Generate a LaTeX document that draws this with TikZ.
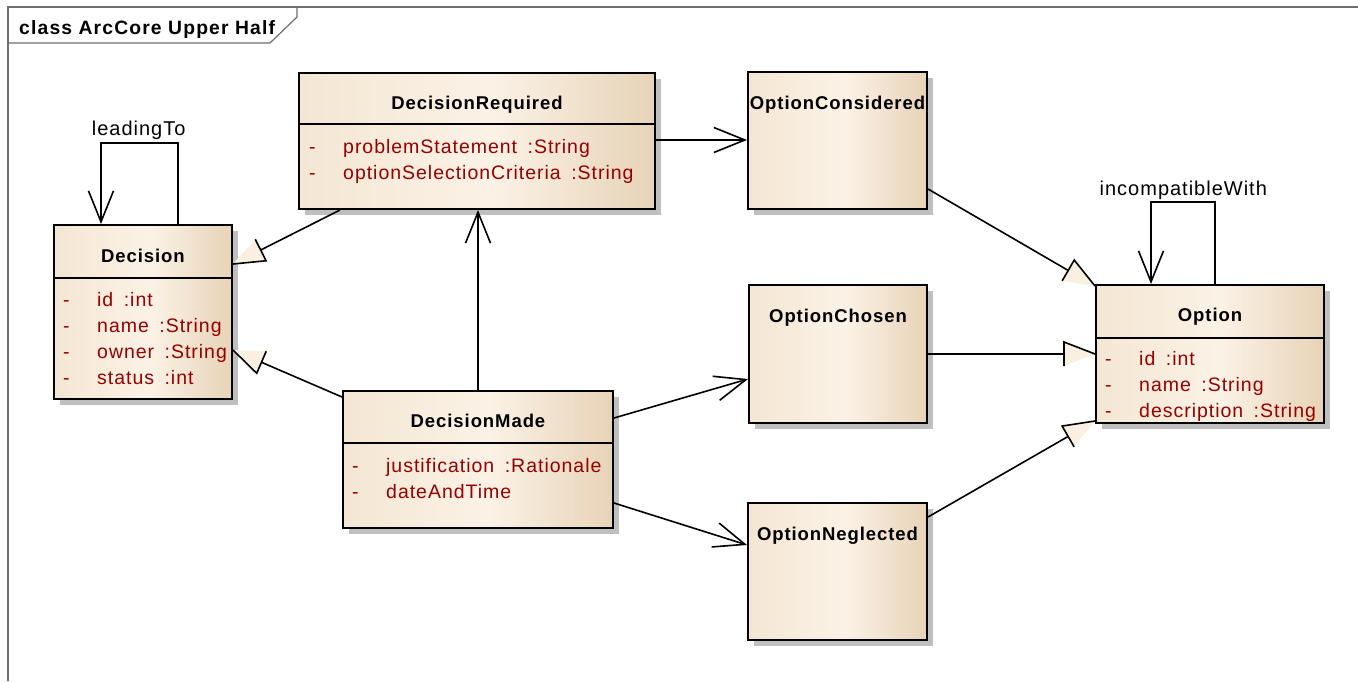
\documentclass[tikz,border=0pt]{standalone}
\usepackage{fontspec}
\setmainfont{Liberation Sans}
\newfontfamily\umlfont[LetterSpace=5]{Liberation Sans}
\newfontfamily\umltitlefont[LetterSpace=6]{Liberation Sans}
\usetikzlibrary{arrows.meta,calc,shadows}

\definecolor{attrred}{RGB}{150,0,0}
\definecolor{fillA}{HTML}{F4E6D3}
\definecolor{fillB}{HTML}{FBF2E6}
\definecolor{fillC}{HTML}{E7D3B7}
\definecolor{genfill}{HTML}{FAF0E2}
\definecolor{framegray}{RGB}{110,110,110}

% horizontal gradient of the class boxes (path box maps to 25bp..75bp)
\pgfdeclarehorizontalshading{umlfill}{100bp}{color(0bp)=(fillA); color(25bp)=(fillA);
  color(52bp)=(fillB); color(75bp)=(fillC); color(100bp)=(fillC)}

\tikzset{
  classbox/.style={rectangle, draw=black, line width=2pt, shade, shading=umlfill,
    inner sep=0pt, anchor=north west,
    drop shadow={shadow xshift=6pt, shadow yshift=-6pt, fill=black!25, opacity=1}},
  classname/.style={anchor=base, inner sep=0pt,
    font=\umlfont\fontsize{18.5}{22}\selectfont\bfseries},
  attrs/.style={anchor=base west, inner sep=0pt, align=left, text=attrred,
    font=\umlfont\fontsize{19.5}{26}\selectfont},
  rolelabel/.style={anchor=base, inner sep=0pt,
    font=\umlfont\fontsize{20}{24}\selectfont},
  divider/.style={line width=2pt},
  conn/.style={line width=1.6pt, line join=miter},
  assoc/.style={conn, -{Straight Barb[length=31pt, width=25pt, line width=1.6pt]}},
  genhead/.style={fill=genfill, draw=none},
  frame/.style={draw=framegray, line width=1.8pt},
}

% generalization: line from #1 to an unfilled-edge triangle whose apex is #2
\newcommand{\genrel}[2]{%
  \coordinate (gm) at ($(#2)!31pt!(#1)$);
  \coordinate (ga) at ($(gm)!12pt!90:(#2)$);
  \coordinate (gb) at ($(gm)!12pt!-90:(#2)$);
  \draw[conn] (#1) -- (gm);
  \path[genhead] (#2) -- (ga) -- (gb) -- cycle;
  \draw[conn] (gb) -- (ga) -- (#2);
}
\newcommand{\attrgap}{\hspace{10.5pt}}
\newcommand{\attr}[1]{\makebox[34pt][l]{-}#1}

\begin{document}
\begin{tikzpicture}[x=1pt, y=-1pt]
\useasboundingbox (0,0) rectangle (1358,681);
\fill[white] (0,0) rectangle (1358,681);

% diagram frame and its name tab
\draw[frame] (8,681) -- (8,7) -- (1358,7);
\draw[frame, line width=1.2pt] (8,43) -- (270,43) -- (297,17) -- (297,7);
\node[anchor=base west, inner sep=0pt,
  font=\umltitlefont\fontsize{19.3}{22}\selectfont\bfseries] (title) at (19,34.3)
  {class ArcCore Upper Half};

% classes
\node[classbox, minimum width=178pt, minimum height=174pt] (dec) at (53,224) {};
\node[classbox, minimum width=356pt, minimum height=136pt] (dr)  at (298,72) {};
\node[classbox, minimum width=179pt, minimum height=137pt] (oc)  at (747,71) {};
\node[classbox, minimum width=228pt, minimum height=138pt] (opt) at (1095,284) {};
\node[classbox, minimum width=270pt, minimum height=137pt] (dm)  at (342,390) {};
\node[classbox, minimum width=178pt, minimum height=138pt] (och) at (748,284) {};
\node[classbox, minimum width=179pt, minimum height=137pt] (on)  at (747,502) {};

% compartments
\draw[divider] (dec.west |- 0,278) -- (dec.east |- 0,278);
\draw[divider] (dr.west |- 0,124) -- (dr.east |- 0,124);
\draw[divider] (opt.west |- 0,338) -- (opt.east |- 0,338);
\draw[divider] (dm.west |- 0,443) -- (dm.east |- 0,443);

% class names
\node[classname] (decname) at (dec.north |- 0,262) {Decision};
\node[classname] (drname)  at (dr.north |- 0,109) {DecisionRequired};
\node[classname] (ocname)  at (oc.north |- 0,109.3) {OptionConsidered};
\node[classname] (optname) at (opt.north |- 0,321.7) {Option};
\node[classname] (dmname)  at (dm.north |- 0,427.7) {DecisionMade};
\node[classname] (ochname) at (och.north |- 0,322.3) {OptionChosen};
\node[classname] (onname)  at (on.north |- 0,540) {OptionNeglected};

% attributes (a node's base is the baseline of its last line)
\node[attrs] (decattr) at ($(dec.west |- 0,384)+(10,0)$)
  {\attr{id\attrgap:int}\\ \attr{name\attrgap:String}\\ \attr{owner\attrgap:String}\\ \attr{status\attrgap:int}};
\node[attrs] (drattr) at ($(dr.west |- 0,179)+(11,0)$)
  {\attr{problemStatement\attrgap:String}\\ \attr{optionSelectionCriteria\attrgap:String}};
\node[attrs] (optattr) at ($(opt.west |- 0,417.7)+(10,0)$)
  {\attr{id\attrgap:int}\\ \attr{name\attrgap:String}\\ \attr{description\attrgap:String}};
\node[attrs] (dmattr) at ($(dm.west |- 0,498.3)+(10,0)$)
  {\attr{justification\attrgap:Rationale}\\ \attr{dateAndTime}};

% self associations
\draw[assoc] ($(dec.north west)+(125,0)$) -- ++(0,-81) -| ($(dec.north west)+(48,0)$);
\node[rolelabel] (leadto) at (138.7,135.7) {leadingTo};
\draw[assoc] ($(opt.north west)+(120,0)$) -- ++(0,-82) -| ($(opt.north west)+(56,0)$);
\node[rolelabel] (incomp) at (1183.3,195) {incompatibleWith};

% directed associations
\coordinate (drE) at ($(dr.north east)+(0,68)$);
\draw[assoc] (drE) -- (drE -| oc.west);
\draw[assoc] (dm.north) -- (dm.north |- dr.south);
\draw[assoc] ($(dm.north east)+(0,28)$) -- ($(och.north west)+(0,95)$);
\draw[assoc] ($(dm.north east)+(0,113)$) -- ($(on.north west)+(0,43)$);

% generalizations
\coordinate (g1s) at ($(dr.south west)+(42,0)$);
\coordinate (g1e) at ($(dec.north east)+(0,40)$);
\genrel{g1s}{g1e}
\coordinate (g2s) at ($(dm.north west)+(0,7)$);
\coordinate (g2e) at ($(dec.north east)+(0,126)$);
\genrel{g2s}{g2e}
\coordinate (g3s) at ($(oc.north east)+(0,118)$);
\coordinate (g3e) at ($(opt.north west)+(0,2)$);
\genrel{g3s}{g3e}
\coordinate (g4s) at ($(och.north east)+(0,70)$);
\coordinate (g4e) at ($(opt.north west)+(0,70)$);
\genrel{g4s}{g4e}
\coordinate (g5s) at ($(on.north east)+(0,15)$);
\coordinate (g5e) at ($(opt.north west)+(0,137)$);
\genrel{g5s}{g5e}
\end{tikzpicture}
\end{document}
